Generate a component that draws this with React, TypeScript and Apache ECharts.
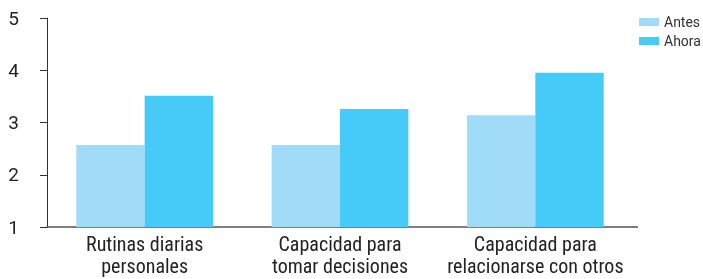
import React, { useEffect, useRef } from "react";
import * as echarts from "echarts";

const categories = [
  "Rutinas diarias\npersonales",
  "Capacidad para\ntomar decisiones",
  "Capacidad para\nrelacionarse con otros",
];
const antes = [2.57, 2.57, 3.14];
const ahora = [3.51, 3.26, 3.95];
const seriesNames = ["Antes", "Ahora"];

const FONT = "'Liberation Sans Narrow', 'Roboto Condensed', 'DejaVu Sans Condensed', Roboto, sans-serif";
const FONT_REG = "Roboto, 'Noto Sans', sans-serif";

export default function App() {
  const ref = useRef<HTMLDivElement>(null);
  useEffect(() => {
    if (!ref.current) return;
    const chart = echarts.init(ref.current, null, { renderer: "svg" });
    chart.setOption({
      animation: false,
      textStyle: { fontFamily: FONT },
      grid: { left: 47, right: 70, top: 18, bottom: 52, containLabel: false },
      legend: {
        orient: "vertical",
        left: 634,
        top: 10,
        itemWidth: 20,
        itemHeight: 8,
        itemGap: 5,
        icon: "rect",
        textStyle: { fontFamily: FONT_REG, fontSize: 14, color: "#333" },
        data: seriesNames,
      },
      xAxis: {
        type: "category",
        data: categories,
        axisLine: { show: true, lineStyle: { color: "#555", width: 1.5 } },
        axisTick: { show: false },
        axisLabel: {
          fontFamily: FONT,
          fontSize: 20,
          lineHeight: 22,
          color: "#222",
          margin: 6,
          interval: 0,
        },
      },
      yAxis: {
        type: "value",
        min: 1,
        max: 5,
        interval: 1,
        splitLine: { show: false },
        axisLine: { show: true, lineStyle: { color: "#333", width: 1 } },
        axisTick: { show: true, length: 7, lineStyle: { color: "#333" } },
        axisLabel: { fontFamily: FONT_REG, fontSize: 19, color: "#222", margin: 28 },
      },
      graphic: [
        {
          type: "line",
          shape: { x1: 633, y1: 227, x2: 638, y2: 227 },
          style: { stroke: "#555", lineWidth: 1.5 },
        },
      ],
      series: [
        {
          name: seriesNames[0],
          type: "bar",
          data: antes,
          barGap: "0%",
          barCategoryGap: "30%",
          itemStyle: { color: "#a0dcf8" },
        },
        {
          name: seriesNames[1],
          type: "bar",
          data: ahora,
          barGap: "0%",
          barCategoryGap: "30%",
          itemStyle: { color: "#46caf7" },
        },
      ],
    });
    return () => chart.dispose();
  }, []);
  return (
    <div
      ref={ref}
      style={{ position: "fixed", left: 0, top: 0, width: 703, height: 279 }}
    />
  );
}
